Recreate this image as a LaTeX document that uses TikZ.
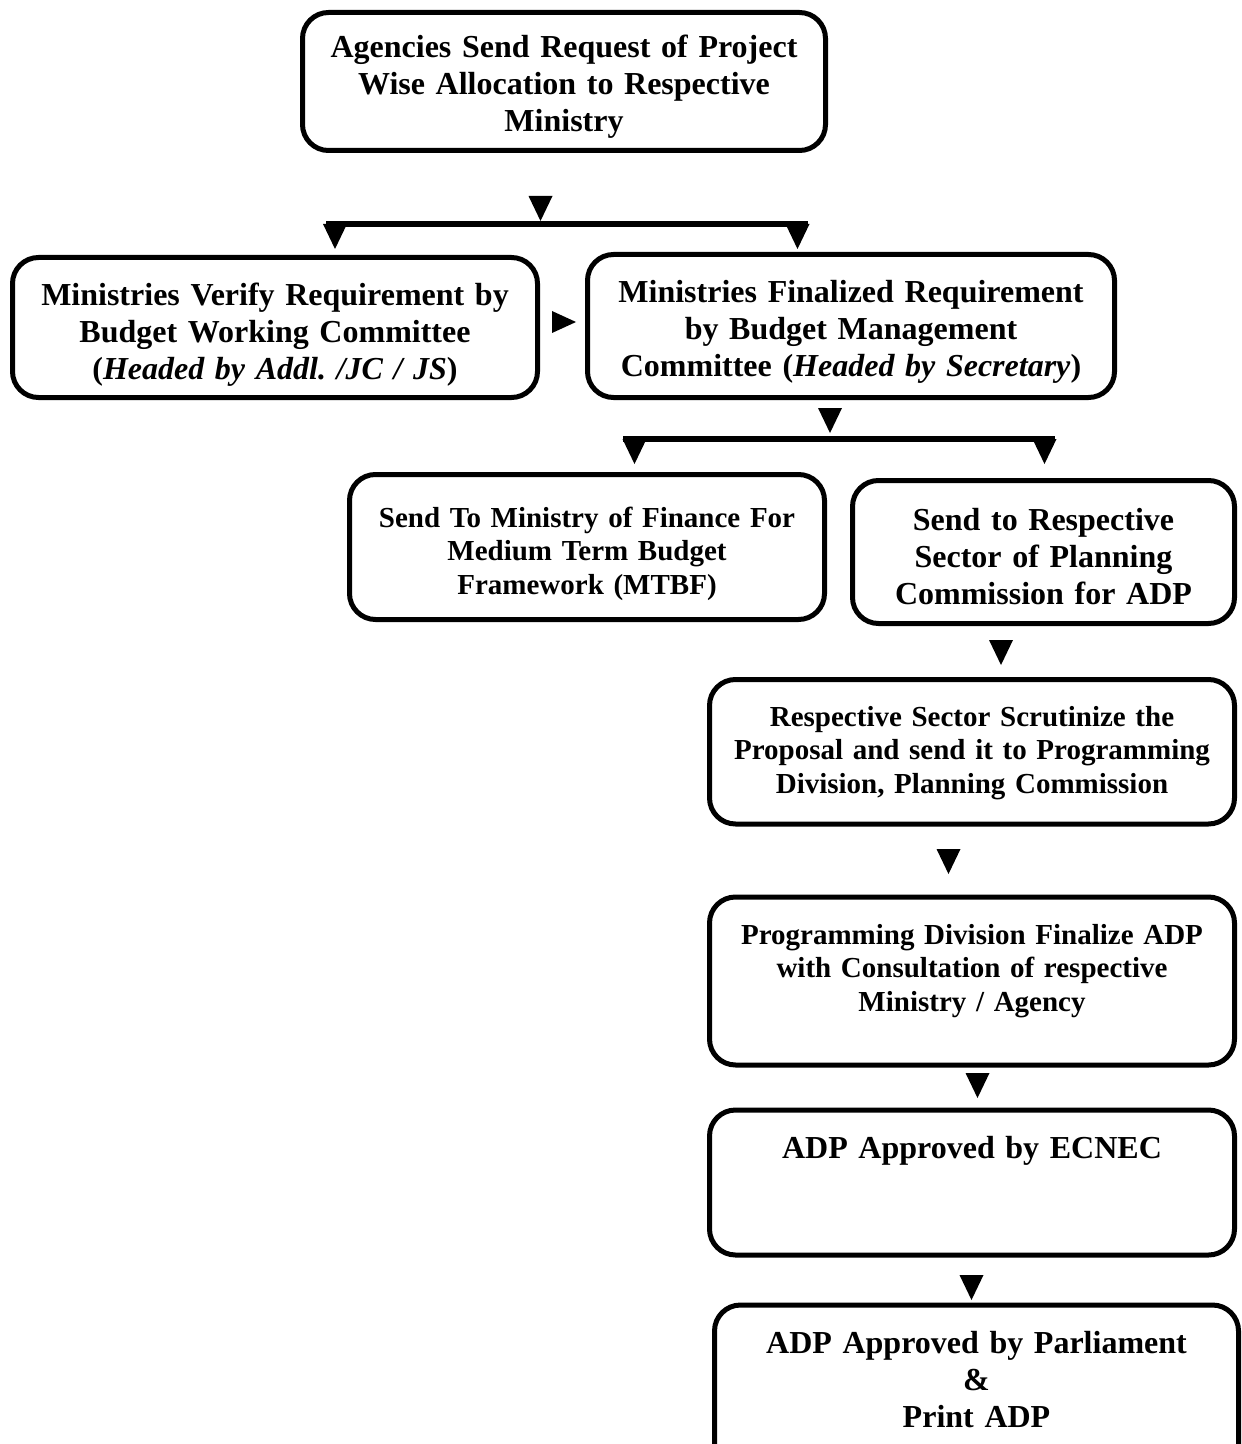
\documentclass[tikz,border=0pt]{standalone}
\usepackage{fontspec}
\setmainfont{Liberation Serif}
\usepackage{tikz}
\usetikzlibrary{calc}
\frenchspacing

\newcommand\bigtext{\fontsize{16pt}{18.5pt}\selectfont\bfseries}
\newcommand\smalltext{\fontsize{14.5pt}{16.75pt}\selectfont\bfseries}
\tikzset{
    stage/.style={draw, line width=2.5pt, rounded corners=13pt, inner sep=0pt, align=center, font=\bigtext},
    split/.style={line width=3pt},
    downtip/.pic={\fill (-12,0) -- (12,0) -- (0,25) -- cycle;},
    righttip/.pic={\fill (0,-11) -- (0,11) -- (24,0) -- cycle;}
}

\begin{document}
\begin{tikzpicture}[x=0.5pt,y=-0.5pt]
        \useasboundingbox (0,0) rectangle (1241,1444);
        % boxes
        \node[stage, text width=261.5pt, text height=22.75pt, text depth=46.25pt, anchor=base] (agency) at (564,58)
            {Agencies Send Request of Project\\Wise Allocation to Respective\\Ministry};
        \node[stage, text width=262.5pt, text height=24.25pt, text depth=45.75pt, anchor=base] (verify) at (275,306)
            {Ministries Verify Requirement by\\Budget Working Committee\\(\textit{Headed by Addl. /JC / JS})};
        \node[stage, text width=263.5pt, text height=24.25pt, text depth=47.25pt, anchor=base] (finalize) at (851,303)
            {Ministries Finalized Requirement\\by Budget Management\\Committee (\textit{Headed by Secretary})};
        \node[stage, font=\smalltext, text width=237.5pt, text height=26.25pt, text depth=46.25pt, anchor=base] (finance) at (587,527)
            {Send To Ministry of Finance For\\Medium Term Budget\\Framework (MTBF)};
        \node[stage, text width=191pt, text height=24.75pt, text depth=46.75pt, anchor=base] (sector) at (1043.5,530)
            {Send to Respective\\Sector of Planning\\Commission for ADP};
        \node[stage, font=\smalltext, text width=262.5pt, text height=23.25pt, text depth=49pt, anchor=base] (scrutiny) at (972,726)
            {Respective Sector Scrutinize the\\Proposal and send it to Programming\\Division, Planning Commission};
        \node[stage, font=\smalltext, text width=262.5pt, text height=23.5pt, text depth=60.5pt, anchor=base] (programming) at (972,944)
            {Programming Division Finalize ADP\\with Consultation of respective\\Ministry / Agency};
        \node[stage, text width=262.5pt, text height=24pt, text depth=48.5pt, anchor=base] (ecnec) at (972,1158)
            {ADP Approved by ECNEC};
        \node[stage, text width=262pt, text height=24pt, text depth=63.5pt, anchor=base] (parliament) at (976.5,1353)
            {ADP Approved by Parliament\\\&\\Print ADP};
        % first fork
        \coordinate (forkA) at (326,224);
        \coordinate (forkB) at (808,224);
        \draw[split] (forkA) -- (forkB);
        \pic at (540.5,196) {downtip};
        \pic at (335,224) {downtip};
        \pic at (797.5,224) {downtip};
        \pic at (552,322) {righttip};
        % second fork
        \coordinate (forkC) at (623,439);
        \coordinate (forkD) at (1055,439);
        \draw[split] (forkC) -- (forkD);
        \pic at (830,408) {downtip};
        \pic at (634.5,439) {downtip};
        \pic at (1044.5,439) {downtip};
        % chain
        \pic at (1001,640) {downtip};
        \pic at (948.5,849) {downtip};
        \pic at (977.5,1073) {downtip};
        \pic at (971.5,1275) {downtip};
    \end{tikzpicture}
\end{document}
